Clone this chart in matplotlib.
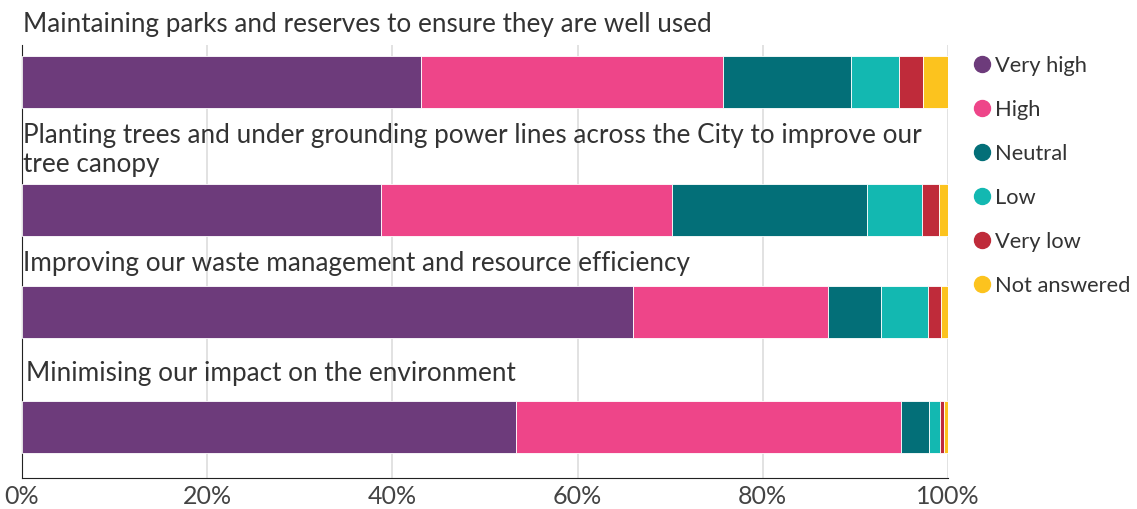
import matplotlib.pyplot as plt
from matplotlib.lines import Line2D

categories = [
    "Maintaining parks and reserves to ensure they are well used",
    "Planting trees and under grounding power lines across the City to improve our\ntree canopy",
    "Improving our waste management and resource efficiency",
    "Minimising our impact on the environment",
]
levels = ["Very high", "High", "Neutral", "Low", "Very low", "Not answered"]
very_high = [43.1, 38.8, 66.0, 53.3]
high = [32.6, 31.4, 21.0, 41.6]
neutral = [13.8, 21.0, 5.8, 3.1]
low = [5.2, 6.0, 5.0, 1.1]
very_low = [2.6, 1.8, 1.4, 0.5]
not_answered = [2.7, 1.0, 0.8, 0.4]
xticks = [0, 20, 40, 60, 80, 100]

colors = ["#6d3b7b", "#ee4589", "#036f78", "#13b8b1", "#bf2b3a", "#fcc31e"]
series = [very_high, high, neutral, low, very_low, not_answered]

plt.rcParams['font.family'] = ['Lato', 'DejaVu Sans']
txt = "#333333"

W, H = 1137, 509
fig = plt.figure(figsize=(W / 100, H / 100), dpi=100)
ax = fig.add_axes([22 / W, 1 - 478 / H, 926 / W, 433 / H])

# layout in pixel rows (y axis runs top->bottom in pixels)
bar_y = [82, 210, 312, 427]
title_y = [25, 150, 263, 373]
ax.set_ylim(478, 45)
ax.set_xlim(0, 100)

left = [0] * len(categories)
for vals, c, name in zip(series, colors, levels):
    ax.barh(bar_y, vals, left=left, height=52, color=c, edgecolor="white",
            linewidth=0.6, label=name, zorder=3)
    left = [l + v for l, v in zip(left, vals)]

for i, (cat, y) in enumerate(zip(categories, title_y)):
    ax.text(0.1 if i < 3 else 0.4, y, cat, va="center", ha="left", fontsize=18.8,
            color=txt, clip_on=False, zorder=5, linespacing=1.2)

ax.set_xticks(xticks)
ax.set_xticklabels([f"{t}%" for t in xticks], fontsize=18, color="#444444")
ax.set_yticks([])
ax.grid(axis="x", color="#dddddd", linewidth=1.2, zorder=0)
for s in ["top", "right"]:
    ax.spines[s].set_visible(False)
ax.spines["left"].set_color("#222222")
ax.spines["bottom"].set_color("#222222")
ax.tick_params(axis="x", length=0, pad=5)

handles = [Line2D([0], [0], marker="o", linestyle="", markersize=11.5,
                  markerfacecolor=c, markeredgecolor=c) for c in colors]
fig.legend(handles, levels, loc="upper left", bbox_to_anchor=(953.5 / W, 1 - 36 / H),
           frameon=False, fontsize=15.75, handletextpad=0.2, handlelength=0.8,
           labelspacing=1.1, labelcolor=txt)

fig.savefig("out.png", dpi=100)
